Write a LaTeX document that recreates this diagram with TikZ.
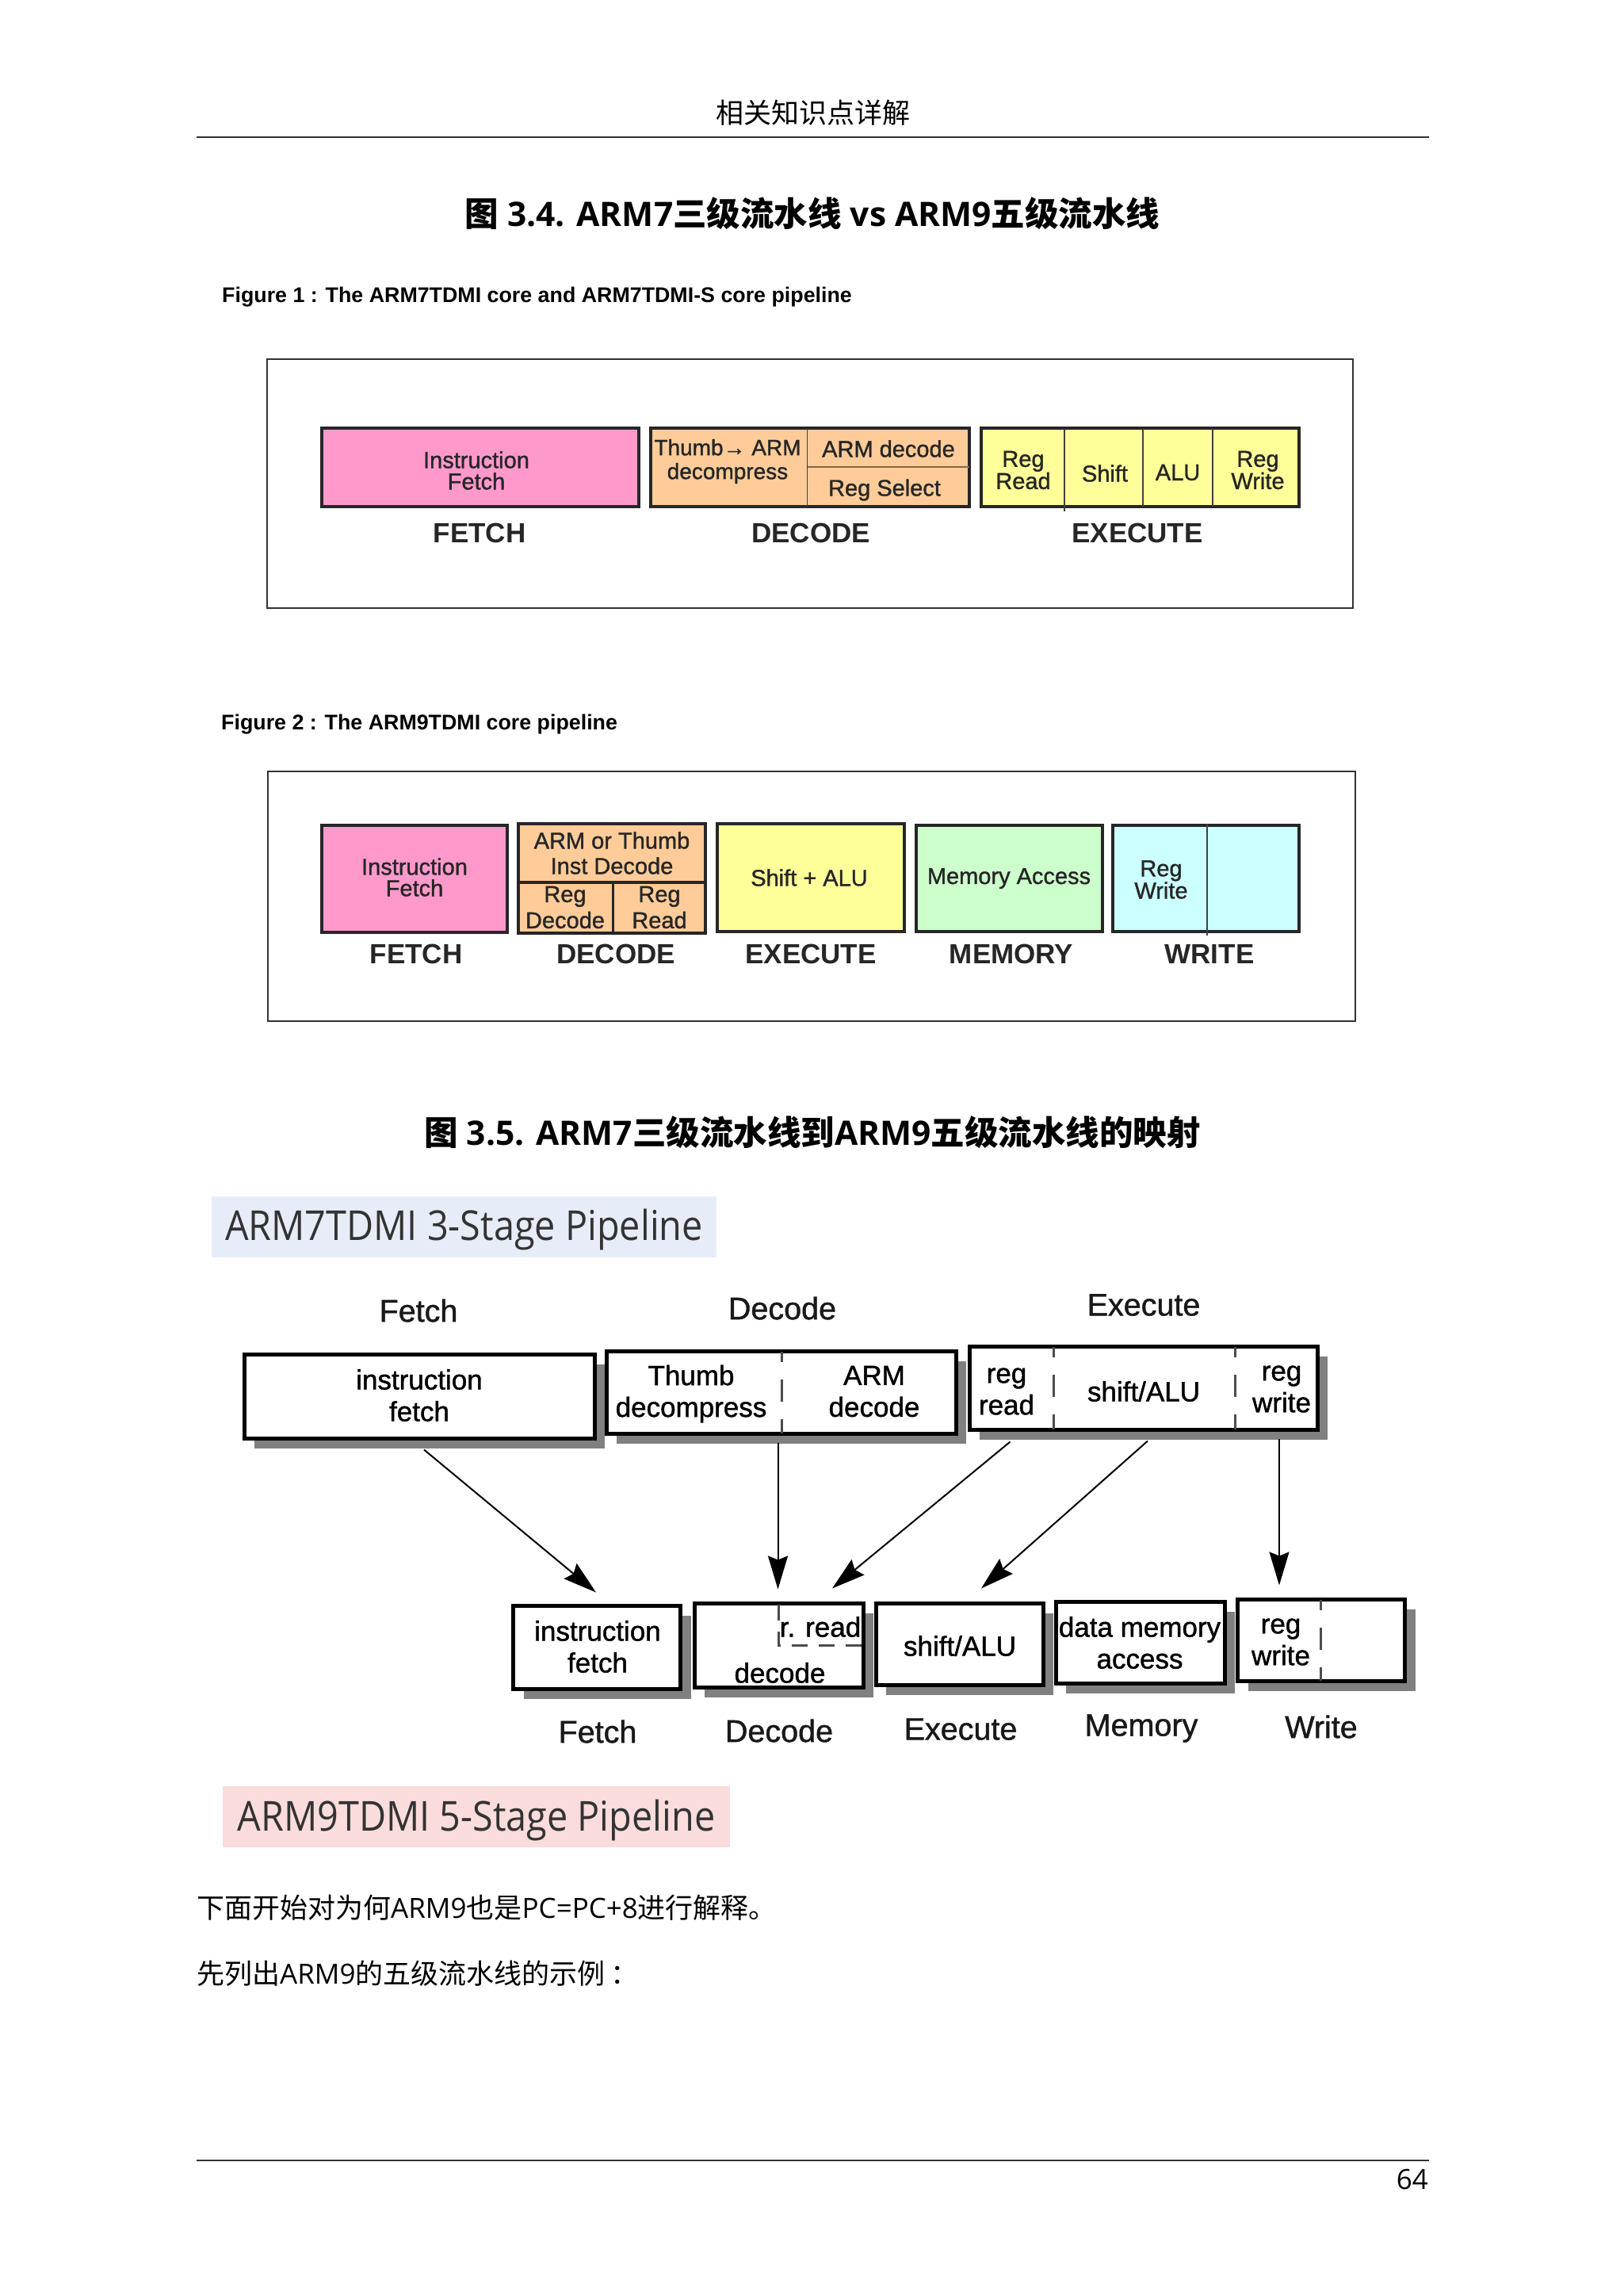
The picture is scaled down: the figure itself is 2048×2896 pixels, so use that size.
\documentclass[tikz,border=0pt]{standalone}
\usepackage{fontspec}
\setmainfont{Open Sans}
\newfontfamily\figfont[FakeBold=1.2]{Liberation Sans}
\newfontfamily\figbold{Liberation Sans Bold}
\newfontfamily\cjk{Noto Sans CJK SC}
\newfontfamily\bannerfont[FakeStretch=0.9]{Open Sans}
\usepackage{xcolor}
\usepackage{tikz}
\usetikzlibrary{arrows.meta}
\usetikzlibrary{shadows}
\definecolor{fetchpink}{HTML}{FF99CC}
\definecolor{decodeorange}{HTML}{FFCC99}
\definecolor{execyellow}{HTML}{FFFF99}
\definecolor{memgreen}{HTML}{CCFFCC}
\definecolor{writecyan}{HTML}{CCFFFF}
\definecolor{bannerblue}{HTML}{E7EDF8}
\definecolor{bannerred}{HTML}{FBDCDC}
\tikzstyle{frame} = [rectangle, draw=black!80, line width=2.5pt, inner sep=0pt]
\tikzstyle{stage} = [rectangle, draw=black!85, line width=4pt, inner sep=0pt]
\tikzstyle{sketch} = [rectangle, draw=black, fill=white, line width=5pt, inner sep=0pt,
    drop shadow={shadow xshift=13pt, shadow yshift=-13pt, fill=black!50, opacity=1}]
\tikzstyle{cell} = [font=\figfont\fontsize{29}{27}\selectfont, align=center, inner sep=0pt, text=black!85]
\tikzstyle{stagename} = [font=\figbold\fontsize{35}{40}\selectfont, inner sep=0pt, text=black!85]
\tikzstyle{sketchtext} = [font=\figfont\fontsize{35}{40}\selectfont, align=center, inner sep=0pt]
\tikzstyle{sketchname} = [font=\figfont\fontsize{39.5}{44}\selectfont, inner sep=0pt, text=black!90]
\tikzstyle{figtitle} = [font=\figbold\fontsize{26.8}{32}\selectfont, anchor=west, inner sep=0pt]
\tikzstyle{heading} = [font=\bfseries\fontsize{42.5}{50}\selectfont, inner sep=0pt]
\tikzstyle{body} = [font=\fontsize{35}{42}\selectfont, anchor=west, inner sep=0pt]
\tikzstyle{banner} = [font=\bannerfont\fontsize{52}{58}\selectfont, text=black!80, inner sep=0pt,
    text height=56pt, text depth=21pt]
\tikzstyle{divider} = [draw=black!75, line width=1.5pt]
\tikzstyle{cut} = [draw=black!70, line width=3pt, dash pattern=on 28pt off 22pt, dash phase=15pt]
\tikzstyle{line} = [draw, line width=2pt, -{Stealth[length=42pt,width=25pt,inset=5pt]}]

\begin{document}
\begin{tikzpicture}[x=1pt, y=-1pt]
  \useasboundingbox (0,0) rectangle (2048,2896);
  % page furniture
  \node [font=\cjk\fontsize{35}{40}\selectfont, inner sep=0pt] (pagehead) at (1026,142) {相关知识点详解};
  \draw [line width=1.5pt, black!80] (248,173) -- (1803,173);
  \node [heading] (title34) at (1025,269) {{\cjk 图} 3.4. ARM7{\cjk 三级流水线} vs ARM9{\cjk 五级流水线}};
  \node [figtitle] (figone) at (280,375) {Figure 1 : The ARM7TDMI core and ARM7TDMI-S core pipeline};
  \node [figtitle] (figtwo) at (279,914) {Figure 2 : The ARM9TDMI core pipeline};

  % figure 1
  \node [frame, minimum width=1370pt, minimum height=314pt] (frameone) at (1022,610) {};
  \node [stage, fill=fetchpink, minimum width=400pt, minimum height=99pt] (afetch) at (606,589.5) {};
  \node [stage, fill=decodeorange, minimum width=402pt, minimum height=99pt] (adecode) at (1022,589.5) {};
  \node [stage, fill=execyellow, minimum width=401pt, minimum height=99pt] (aexec) at (1438.5,589.5) {};
  \draw [divider] (1018.5,541) -- (1018.5,639);
  \draw [divider, line width=2.5pt, black!50!decodeorange] (1018.5,589) -- (1223,589);
  \draw [divider] (1343,541) -- (1343,645);
  \draw [divider] (1442,541) -- (1442,639);
  \draw [divider] (1530,541) -- (1530,639);
  \node [cell] (ainstr) at (601,593.5) {Instruction\\Fetch};
  \node [cell, font=\figfont\fontsize{28}{30}\selectfont] (athumb) at (918,582) {Thumb→ ARM\\decompress};
  \node [cell] (aarm) at (1121,566) {ARM decode};
  \node [cell] (aselect) at (1116,618) {Reg Select};
  \node [cell] (aread) at (1291,593) {Reg\\Read};
  \node [cell] (ashift) at (1394,597) {Shift};
  \node [cell] (aalu) at (1486,596) {ALU};
  \node [cell] (awrite) at (1587,593) {Reg\\Write};
  \node [stagename] (afetchname) at (605,672) {FETCH};
  \node [stagename] (adecodename) at (1023,672) {DECODE};
  \node [stagename] (aexecname) at (1435,672) {EXECUTE};

  % figure 2
  \node [frame, minimum width=1372pt, minimum height=315pt] (frametwo) at (1024,1130.5) {};
  \node [stage, fill=fetchpink, minimum width=234pt, minimum height=135pt] (bfetch) at (523,1108.5) {};
  \node [stage, fill=decodeorange, minimum width=236pt, minimum height=138pt] (bdecode) at (772,1108) {};
  \node [stage, fill=execyellow, minimum width=236pt, minimum height=136pt] (bexec) at (1023,1107) {};
  \node [stage, fill=memgreen, minimum width=235pt, minimum height=134pt] (bmem) at (1273,1108) {};
  \node [stage, fill=writecyan, minimum width=235pt, minimum height=134pt] (bwrite) at (1521.5,1108) {};
  \draw [divider, line width=4pt, black!85] (652,1113) -- (892,1113);
  \draw [divider, line width=3pt, black!85] (773.5,1113) -- (773.5,1178);
  \draw [divider] (1523,1039) -- (1523,1180);
  \node [cell] (binstr) at (523,1106.5) {Instruction\\Fetch};
  \node [cell, font=\figfont\fontsize{29}{32}\selectfont] (barm) at (772,1076) {ARM or Thumb\\Inst Decode};
  \node [cell, font=\figfont\fontsize{29}{33}\selectfont] (bregdec) at (713,1144.5) {Reg\\Decode};
  \node [cell, font=\figfont\fontsize{29}{33}\selectfont] (bregread) at (832,1144.5) {Reg\\Read};
  \node [cell] (bshift) at (1021,1107) {Shift + ALU};
  \node [cell] (bmemacc) at (1273,1108) {Memory Access};
  \node [cell] (bregwrite) at (1465,1109.5) {Reg\\Write};
  \node [stagename] (bfetchname) at (525,1203) {FETCH};
  \node [stagename] (bdecodename) at (777,1203) {DECODE};
  \node [stagename] (bexecname) at (1023,1203) {EXECUTE};
  \node [stagename] (bmemname) at (1276,1203) {MEMORY};
  \node [stagename] (bwritename) at (1526,1203) {WRITE};

  % mapping
  \node [heading] (title35) at (1025,1428) {{\cjk 图} 3.5. ARM7{\cjk 三级流水线到}ARM9{\cjk 五级流水线的映射}};
  \node [banner, fill=bannerblue, minimum width=637pt] (threestage) at (585.5,1547) {ARM7TDMI 3-Stage Pipeline};
  \node [sketchname] (cfetchname) at (528,1653) {Fetch};
  \node [sketchname] (cdecodename) at (987,1650) {Decode};
  \node [sketchname] (cexecname) at (1443,1646) {Execute};

  \node [sketch, minimum width=442pt, minimum height=106pt] (cfetch) at (529,1761) {};
  \node [sketch, minimum width=441pt, minimum height=104pt] (cdecode) at (985.5,1756) {};
  \node [sketch, minimum width=439pt, minimum height=105pt] (cexec) at (1442.5,1750.5) {};
  \draw [cut] (986.5,1705) -- (986.5,1808);
  \draw [cut] (1329,1699) -- (1329,1803);
  \draw [cut] (1558,1699) -- (1558,1803);
  \node [sketchtext] (cinstr) at (529,1760) {instruction\\fetch};
  \node [sketchtext] (cthumb) at (872,1758) {Thumb\\decompress};
  \node [sketchtext] (carm) at (1103,1755) {ARM\\decode};
  \node [sketchtext] (cread) at (1270,1755) {reg\\read};
  \node [sketchtext] (cshift) at (1443,1755) {shift/ALU};
  \node [sketchtext] (cwrite) at (1617,1752) {reg\\write};

  \node [sketch, minimum width=211pt, minimum height=105pt] (dfetch) at (753,2077.5) {};
  \node [sketch, minimum width=213pt, minimum height=106pt] (ddecode) at (982.5,2075) {};
  \node [sketch, minimum width=211pt, minimum height=103pt] (dexec) at (1210.5,2073.5) {};
  \node [sketch, minimum width=213pt, minimum height=103pt] (dmem) at (1438.5,2071.5) {};
  \node [sketch, minimum width=211pt, minimum height=103pt] (dwrite) at (1667,2068.5) {};
  \draw [cut, dash pattern=on 20pt off 14pt, dash phase=0pt] (982,2024) -- (982,2075) -- (1089,2075);
  \draw [cut, dash pattern=on 28pt off 22pt] (1666,2018) -- (1666,2120);
  \node [sketchtext] (dinstr) at (754,2077) {instruction\\fetch};
  \node [sketchtext] (dread) at (1035,2052) {r. read};
  \node [sketchtext] (ddec) at (984,2110) {decode};
  \node [sketchtext] (dshift) at (1211,2076) {shift/ALU};
  \node [sketchtext] (ddata) at (1438,2072) {data memory\\access};
  \node [sketchtext] (dreg) at (1616,2071) {reg\\write};
  \node [sketchname] (dfetchname) at (754,2184) {Fetch};
  \node [sketchname] (ddecodename) at (983,2183) {Decode};
  \node [sketchname] (dexecname) at (1212,2181) {Execute};
  \node [sketchname] (dmemname) at (1440,2180) {Memory};
  \node [sketchname] (dwritename) at (1667,2178) {Write};

  % arrows between the two rows
  \path [line] ([shift={(6,12)}]cfetch.south) -- ([shift={(-1,-14)}]dfetch.north);
  \path [line] ([shift={(-4,9)}]cdecode.south) -- ([shift={(-1,-15)}]ddecode.north);
  \path [line] ([shift={(-168,13)}]cexec.south) -- ([shift={(67.5,-16)}]ddecode.north);
  \path [line] ([shift={(5.5,12)}]cexec.south) -- ([shift={(27.5,-16)}]dexec.north);
  \path [line] ([shift={(171.5,9)}]cexec.south) -- ([shift={(-53,-15)}]dwrite.north);

  \node [banner, fill=bannerred, minimum width=640pt] (fivestage) at (601,2291.5) {ARM9TDMI 5-Stage Pipeline};

  % closing text
  \node [body] (lineone) at (248,2406) {{\cjk 下面开始对为何}ARM9{\cjk 也是}PC=PC+8{\cjk 进行解释。}};
  \node [body] (linetwo) at (248,2489) {{\cjk 先列出}ARM9{\cjk 的五级流水线的示例}\hspace{7pt}{\cjk ：}};
  \draw [line width=1.5pt, black!80] (248,2725) -- (1803,2725);
  \node [font=\fontsize{35}{40}\selectfont, anchor=east, inner sep=0pt] (pageno) at (1802,2749) {64};
\end{tikzpicture}
\end{document}
